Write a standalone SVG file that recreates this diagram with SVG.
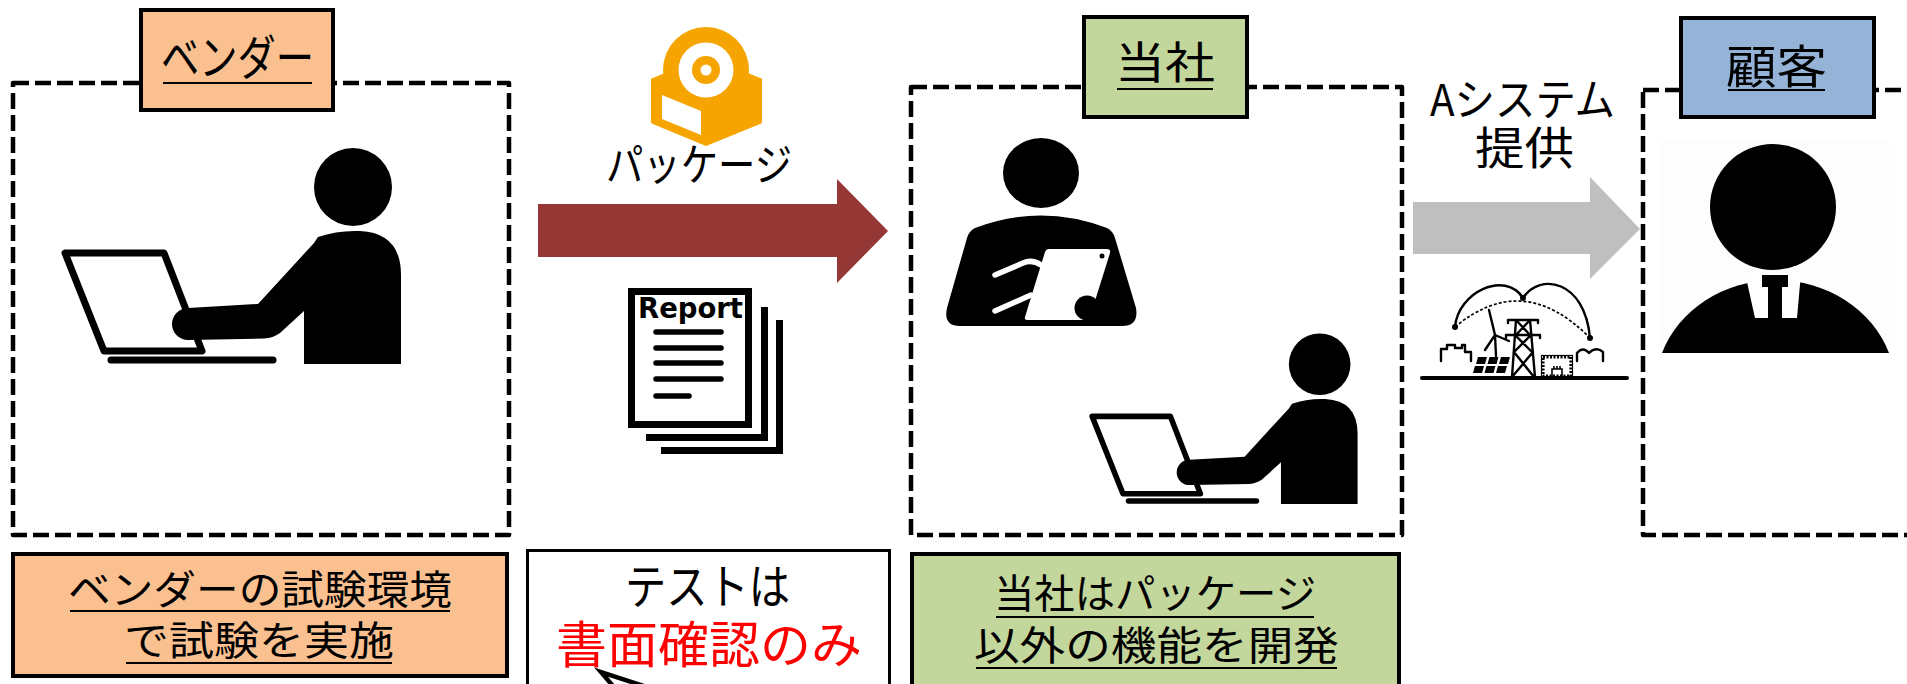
<svg xmlns="http://www.w3.org/2000/svg" width="1907" height="684" viewBox="0 0 1907 684">
<style>
  .frame{fill:none;stroke:#000;stroke-width:4.5;stroke-dasharray:16 6;stroke-linejoin:round}
  .tag{stroke:#000;stroke-width:4}
  .note{stroke:#000;stroke-width:4}
  .jp{font-family:"Noto Sans CJK JP","Noto Sans CJK SC",sans-serif;fill:#000}
  .ul{stroke:#000;stroke-width:2.2}
  .thin{fill:none;stroke:#000;stroke-width:2.4;stroke-linecap:round;stroke-linejoin:round}
  .pkg{fill:#F6A500}
</style>
<defs>
  <!-- person typing on a laptop -->
  <g id="worker">
    <polygon points="65,253 164,253 202,351 104,351" fill="#fff" stroke="#000" stroke-width="7" stroke-linejoin="round"/>
    <line x1="111" y1="360" x2="273" y2="360" stroke="#000" stroke-width="7" stroke-linecap="round"/>
    <circle cx="353" cy="187" r="39"/>
    <path d="M318,237 Q338,230 360,231 Q401,233 401,275 L401,364 L304,364 L304,311 L280,333 Q273,338 264,338.5 L188,340 A16,16 0 0 1 188,308 L258,304 L314,243 Q316,240 318,237 Z"/>
  </g>
</defs>

<rect width="1907" height="684" fill="#fff"/>

<!-- vendor -->
<g id="vendor">
  <rect class="frame" x="13" y="83" width="496" height="452"/>
  <rect class="tag" x="141" y="10" width="192" height="100" fill="#FAC090"/>
  <text class="jp" x="161" y="75" font-size="48" textLength="153" lengthAdjust="spacingAndGlyphs">ベンダー</text>
  <line class="ul" x1="163" y1="83" x2="312" y2="83"/>
  <use href="#worker"/>
</g>

<!-- our company -->
<g id="company">
  <rect class="frame" x="911" y="87" width="491" height="448"/>
  <rect class="tag" x="1084" y="17" width="163" height="100" fill="#C3D69B"/>
  <text class="jp" x="1115" y="79" font-size="44" textLength="100" lengthAdjust="spacingAndGlyphs">当社</text>
  <line class="ul" x1="1117" y1="89" x2="1213" y2="89"/>
  <!-- person holding a tablet -->
  <g id="company-reviewer">
    <ellipse cx="1041" cy="173" rx="38" ry="35"/>
    <path d="M975,228 Q1041,203 1107,228 Q1113,231 1115,238 L1136,308 Q1139,326 1122,326 L960,326 Q943,326 947,308 L967,238 Q969,231 975,228 Z"/>
    <path fill="#fff" d="M1049,249 L1107,249 Q1111,249 1110,253 L1089,320 L1027,320 Q1024,320 1025,317 L1045,252 Q1046,249 1049,249 Z"/>
    <circle cx="1087" cy="308" r="12.5"/>
    <circle cx="1102" cy="256" r="2.5"/>
    <path d="M995,275 L1023,263 Q1032,259 1041,265 M995,311 L1031,295" stroke="#fff" stroke-width="5.5" stroke-linecap="round" fill="none"/>
  </g>
  <use href="#worker" transform="translate(1040.8,216.5) scale(0.79)"/>
</g>

<!-- customer -->
<g id="customer">
  <rect class="frame" x="1643" y="90" width="400" height="445"/>
  <rect class="tag" x="1681" y="18" width="193" height="99" fill="#95B3D7"/>
  <text class="jp" x="1726" y="83" font-size="46" textLength="101" lengthAdjust="spacingAndGlyphs">顧客</text>
  <line class="ul" x1="1728" y1="90" x2="1825" y2="90"/>
  <rect x="1660" y="139" width="230" height="215" fill="#fdfdfd"/>
  <circle cx="1773" cy="207" r="63"/>
  <path d="M1662,353 A120,108 0 0 1 1889,353 Z"/>
  <polygon points="1745,273 1801,273 1797,318 1755,318" fill="#fff"/>
  <path d="M1762,275 H1788 V287 H1782 V318 H1768 V287 H1762 Z"/>
</g>

<!-- notes under the frames -->
<g id="vendor-note">
  <rect class="note" x="13" y="554" width="494" height="122" fill="#FAC090"/>
  <text class="jp" x="68" y="604" font-size="40" textLength="384" lengthAdjust="spacingAndGlyphs">ベンダーの試験環境</text>
  <line class="ul" x1="70" y1="611" x2="450" y2="611"/>
  <text class="jp" x="124" y="655" font-size="40" textLength="270" lengthAdjust="spacingAndGlyphs">で試験を実施</text>
  <line class="ul" x1="126" y1="663" x2="392" y2="663"/>
</g>

<g id="test-note">
  <rect x="527.5" y="550.5" width="362" height="160" fill="#fff" stroke="#000" stroke-width="3"/>
  <text class="jp" x="625" y="604" font-size="48" textLength="165" lengthAdjust="spacingAndGlyphs">テストは</text>
  <text class="jp" x="556" y="663" font-size="50" textLength="306" lengthAdjust="spacingAndGlyphs" style="fill:#FF0000">書面確認のみ</text>
  <polygon points="601,672 618,692 662,692" fill="#fff" stroke="#000" stroke-width="4.5"/>
</g>

<g id="company-note">
  <rect class="note" x="912" y="554" width="487" height="160" fill="#C3D69B"/>
  <text class="jp" x="994" y="608" font-size="40" textLength="322" lengthAdjust="spacingAndGlyphs">当社はパッケージ</text>
  <line class="ul" x1="996" y1="617" x2="1314" y2="617"/>
  <text class="jp" x="974" y="660" font-size="40" textLength="365" lengthAdjust="spacingAndGlyphs">以外の機能を開発</text>
  <line class="ul" x1="976" y1="668" x2="1337" y2="668"/>
</g>

<!-- flows between the parties -->
<g id="connectors">
  <g id="flow-package">
    <polygon points="538,204 837,204 837,179 888,231 837,283 837,257 538,257" fill="#953735"/>
    <!-- software package icon: disc dropping into a box -->
    <path class="pkg" d="M653,80 L706,58 L760,80 L706,102 Z" stroke="#F6A500" stroke-width="4" stroke-linejoin="round"/>
    <circle class="pkg" cx="706" cy="70" r="43"/>
    <circle cx="706" cy="70" r="27.5" fill="#fff"/>
    <circle class="pkg" cx="706" cy="70" r="14"/>
    <circle cx="706" cy="70" r="5.5" fill="#fff"/>
    <path class="pkg" d="M653,80 L706,102 L760,80 L760,122 L706,144 L653,122 Z" stroke="#F6A500" stroke-width="4" stroke-linejoin="round"/>
    <polygon points="662,95 701,111 701,135 662,119" fill="#fff"/>
    <text class="jp" x="606" y="181" font-size="44" textLength="186" lengthAdjust="spacingAndGlyphs">パッケージ</text>
    <!-- report stack -->
    <path d="M661,450.5 H779.5 V320" fill="none" stroke="#000" stroke-width="7"/>
    <path d="M646,437.5 H764.5 V307" fill="none" stroke="#000" stroke-width="7"/>
    <rect x="631.5" y="291.5" width="117" height="133" fill="#fff" stroke="#000" stroke-width="7"/>
    <text x="638" y="318" font-family="'DejaVu Sans',sans-serif" font-weight="bold" font-size="28" textLength="105" lengthAdjust="spacingAndGlyphs">Report</text>
    <path d="M656,332 H721 M656,348 H721 M656,363 H721 M656,379 H721 M656,396 H689" stroke="#000" stroke-width="5.5" stroke-linecap="round"/>
  </g>
  <g id="flow-system">
    <polygon points="1413,202 1590,202 1590,177 1640,229 1590,279 1590,254 1413,254" fill="#BFBFBF"/>
    <text class="jp" x="1430" y="116" font-size="44" textLength="185" lengthAdjust="spacingAndGlyphs">Aシステム</text>
    <text class="jp" x="1475" y="165" font-size="45" textLength="99" lengthAdjust="spacingAndGlyphs">提供</text>
    <!-- power grid icon -->
    <g id="grid-icon">
      <line x1="1422" y1="378" x2="1627" y2="378" stroke="#000" stroke-width="4" stroke-linecap="round"/>
      <path class="thin" d="M1441,361 V349 H1447 V345 H1455 V348 H1462 V345 H1465 V352 H1471 V361"/>
      <path class="thin" d="M1577,361 V353 Q1583,346 1589,353 Q1596,346 1603,352 V361"/>
      <g fill="#000">
        <polygon points="1478,357 1487,357 1485,364 1476,364"/>
        <polygon points="1489.5,357 1498.5,357 1496.5,364 1487.5,364"/>
        <polygon points="1501,357 1510,357 1508,364 1499,364"/>
        <polygon points="1475,366 1484,366 1482,373 1473,373"/>
        <polygon points="1486.5,366 1495.5,366 1493.5,373 1484.5,373"/>
        <polygon points="1498,366 1507,366 1505,373 1496,373"/>
      </g>
      <path class="thin" d="M1495,335 L1496,356 M1495,335 L1489,310 M1495,335 L1485,350 M1495,335 L1509,341"/>
      <path class="thin" d="M1516,320 L1512,377 M1530,320 L1535,377 M1508,320 H1538 M1506,335 H1540 M1508,320 V323 M1538,320 V323 M1506,335 V338 M1540,335 V338 M1516,320 L1530,335 M1530,320 L1516,335 M1515,335 L1532,352 M1531,335 L1514,352 M1514,352 L1534,377 M1533,352 L1512,377"/>
      <rect x="1543" y="357" width="28" height="19" fill="none" stroke="#000" stroke-width="3.2" stroke-dasharray="2 1.5"/>
      <rect x="1541.5" y="355.5" width="31" height="22" fill="none" stroke="#000" stroke-width="1.2"/>
      <path d="M1552,377 V369 H1562 V377 M1554,369 V366 M1557,369 V366 M1560,369 V366" fill="none" stroke="#000" stroke-width="1.6"/>
      <path class="thin" d="M1455,327 C1458,292 1505,270 1523,298 C1540,272 1585,280 1590,338"/>
      <path d="M1455,327 Q1523,270 1590,338" fill="none" stroke="#000" stroke-width="1.7" stroke-dasharray="3 2"/>
      <circle cx="1455" cy="327" r="3"/>
      <circle cx="1523" cy="298" r="3"/>
      <circle cx="1590" cy="338" r="3"/>
    </g>
  </g>
</g>
</svg>
